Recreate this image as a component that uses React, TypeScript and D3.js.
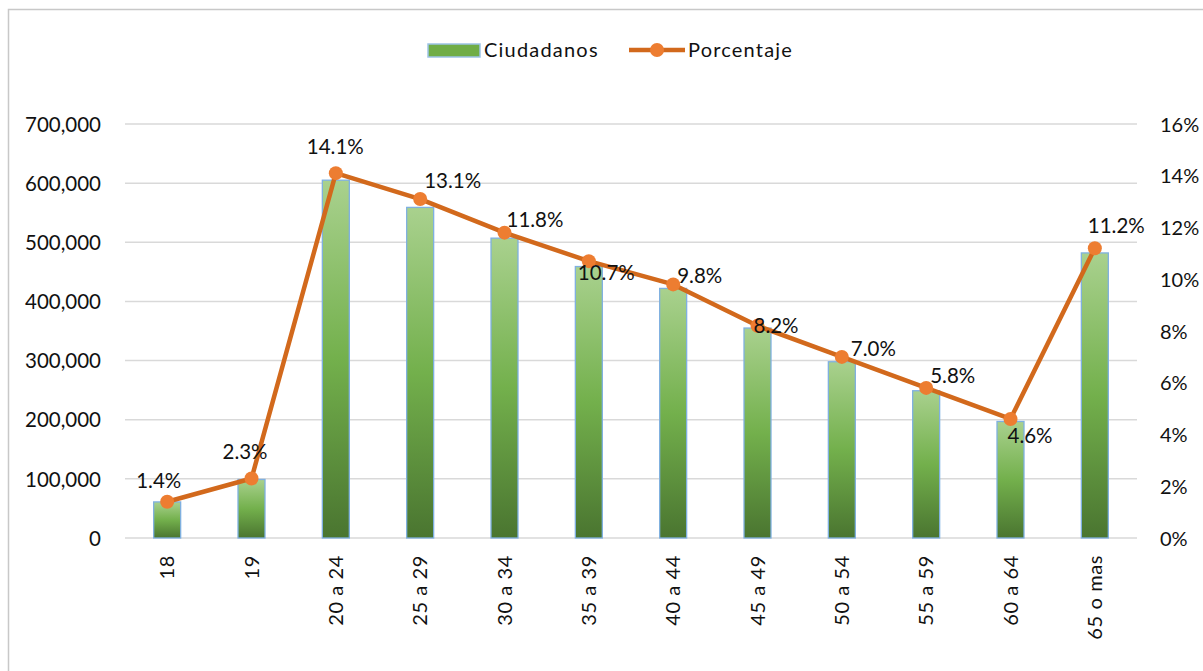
import * as d3 from "d3";
import { useEffect, useRef } from "react";

const categories = ["18", "19", "20 a 24", "25 a 29", "30 a 34", "35 a 39", "40 a 44", "45 a 49", "50 a 54", "55 a 59", "60 a 64", "65 o mas"];
const ciudadanos = [61000, 99000, 605000, 559000, 507000, 459000, 422000, 355000, 298000, 249000, 197000, 482000];
const porcentaje = [0.014, 0.023, 0.141, 0.131, 0.118, 0.107, 0.098, 0.082, 0.070, 0.058, 0.046, 0.112];
const leftTicks = [0, 100000, 200000, 300000, 400000, 500000, 600000, 700000];
const rightTicks = [0, 0.02, 0.04, 0.06, 0.08, 0.1, 0.12, 0.14, 0.16];
// where each percentage label sits relative to its point (Excel best-fit placement)
const labelOffsets = [[-31, -21], [-29, -27], [-29, -26], [4, -18], [2, -13], [-11, 12], [4, -9], [-4, 0], [9, -8], [4, -12], [-3, 17], [-7, -22]];

const W = 1203;
const H = 671;
const FONT = "Lato, 'Open Sans', sans-serif";
const TEXT = "#111111";

const App = () => {
  const ref = useRef<SVGSVGElement | null>(null);

  useEffect(() => {
    const svg = d3.select(ref.current);
    svg.selectAll("*").remove();

    const margin = { top: 124, bottom: 133, left: 125, right: 66 };
    const y0 = H - margin.bottom;

    // marco del gráfico
    svg.append("rect")
      .attr("x", 8.5).attr("y", 9.5)
      .attr("width", 1205).attr("height", 680)
      .attr("fill", "white")
      .attr("stroke", "#c8c8c8")
      .attr("stroke-width", 1.5);

    const x = d3.scaleBand()
      .domain(categories)
      .range([margin.left, W - margin.right])
      .paddingInner(0.68)
      .paddingOuter(0.34);

    const yL = d3.scaleLinear().domain([0, 700000]).range([y0, margin.top]);
    const yR = d3.scaleLinear().domain([0, 0.16]).range([y0, margin.top]);

    // gradiente de las barras
    const grad = svg.append("defs").append("linearGradient")
      .attr("id", "barGrad")
      .attr("x1", 0).attr("y1", 0).attr("x2", 0).attr("y2", 1);
    grad.append("stop").attr("offset", "0%").attr("stop-color", "#a9d18e");
    grad.append("stop").attr("offset", "50%").attr("stop-color", "#73b04c");
    grad.append("stop").attr("offset", "100%").attr("stop-color", "#4a7530");

    // líneas de cuadrícula
    svg.append("g")
      .selectAll("line")
      .data(leftTicks)
      .enter()
      .append("line")
      .attr("x1", margin.left).attr("x2", W - margin.right)
      .attr("y1", d => yL(d)).attr("y2", d => yL(d))
      .attr("stroke", "#d9d9d9")
      .attr("stroke-width", 1.5);

    // eje izquierdo
    const axL = svg.append("g")
      .attr("transform", `translate(${margin.left - 24},0)`)
      .call(d3.axisLeft(yL).tickValues(leftTicks).tickSize(0).tickPadding(0).tickFormat(d3.format(",")));
    axL.select(".domain").remove();
    axL.selectAll("text")
      .attr("font-family", FONT).attr("font-size", 20.5).attr("fill", TEXT)
      .attr("dy", "0.35em");

    // eje derecho
    const axR = svg.append("g")
      .attr("transform", `translate(${W - margin.right + 23},0)`)
      .call(d3.axisRight(yR).tickValues(rightTicks).tickSize(0).tickPadding(0).tickFormat(d3.format(".0%")));
    axR.select(".domain").remove();
    axR.selectAll("text")
      .attr("font-family", FONT).attr("font-size", 20).attr("fill", TEXT)
      .attr("dy", "0.35em");

    // barras
    svg.append("g")
      .selectAll("rect")
      .data(ciudadanos)
      .enter()
      .append("rect")
      .attr("x", (d, i) => x(categories[i])!)
      .attr("y", d => yL(d))
      .attr("width", x.bandwidth())
      .attr("height", d => y0 - yL(d))
      .attr("fill", "url(#barGrad)")
      .attr("stroke", "#7fb0e0")
      .attr("stroke-width", 1.3);

    // etiquetas del eje x
    svg.append("g")
      .selectAll("text")
      .data(categories)
      .enter()
      .append("text")
      .attr("transform", d => `translate(${x(d)! + x.bandwidth() / 2},${y0 + 17}) rotate(-90)`)
      .attr("text-anchor", "end")
      .attr("dy", "0.35em")
      .attr("font-family", FONT).attr("font-size", 20).attr("fill", TEXT)
      .attr("letter-spacing", 0.6)
      .text(d => d);

    // línea de porcentaje
    const cx = (i: number) => x(categories[i])! + x.bandwidth() / 2;
    const line = d3.line<number>().x((d, i) => cx(i)).y(d => yR(d));
    svg.append("path")
      .datum(porcentaje)
      .attr("d", line)
      .attr("fill", "none")
      .attr("stroke", "#d2691c")
      .attr("stroke-width", 4.5)
      .attr("stroke-linejoin", "round");

    svg.append("g")
      .selectAll("circle")
      .data(porcentaje)
      .enter()
      .append("circle")
      .attr("cx", (d, i) => cx(i))
      .attr("cy", d => yR(d))
      .attr("r", 7)
      .attr("fill", "#ed7d31");

    svg.append("g")
      .selectAll("text")
      .data(porcentaje)
      .enter()
      .append("text")
      .attr("x", (d, i) => cx(i) + labelOffsets[i][0])
      .attr("y", (d, i) => yR(d) + labelOffsets[i][1])
      .attr("dy", "0.35em")
      .attr("font-family", FONT).attr("font-size", 20.5).attr("fill", TEXT)
      .text(d => d3.format(".1%")(d));

    // leyenda
    const lg = svg.append("g");
    lg.append("rect")
      .attr("x", 428).attr("y", 44).attr("width", 52).attr("height", 13)
      .attr("fill", "#70ad47").attr("stroke", "#9dc3e6").attr("stroke-width", 1.5);
    lg.append("text")
      .attr("x", 484).attr("y", 50).attr("dy", "0.35em")
      .attr("font-family", FONT).attr("font-size", 20).attr("fill", TEXT)
      .attr("letter-spacing", 1.2)
      .text("Ciudadanos");
    lg.append("line")
      .attr("x1", 629).attr("x2", 685).attr("y1", 50).attr("y2", 50)
      .attr("stroke", "#d2691c").attr("stroke-width", 4.5);
    lg.append("circle")
      .attr("cx", 657).attr("cy", 50).attr("r", 7).attr("fill", "#ed7d31");
    lg.append("text")
      .attr("x", 688).attr("y", 50).attr("dy", "0.35em")
      .attr("font-family", FONT).attr("font-size", 20).attr("fill", TEXT)
      .attr("letter-spacing", 1.2)
      .text("Porcentaje");
  }, []);

  return (
    <svg ref={ref} width={W} height={H}
      style={{ position: "absolute", left: 0, top: 0, display: "block" }} />
  );
};

export default App;
